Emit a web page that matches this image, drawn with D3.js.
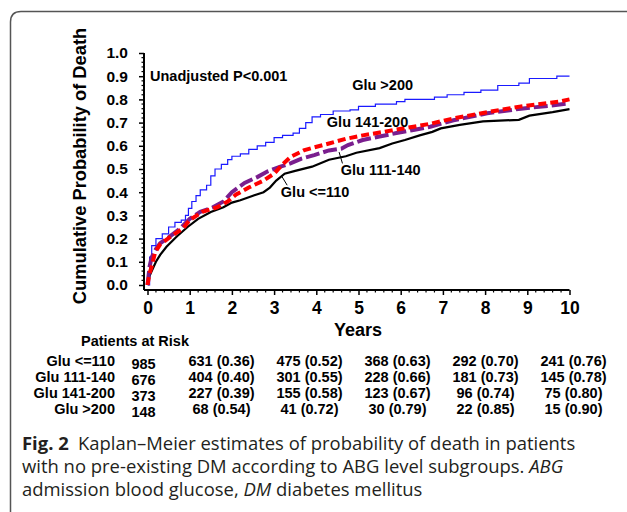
<!DOCTYPE html>
<html>
<head>
<meta charset="utf-8">
<script src="https://cdn.jsdelivr.net/npm/d3@7"></script>
<style>
  body { margin: 0; background: #fff; }
  svg { display: block; }
</style>
</head>
<body>
<div id="chart"></div>
<script>
// ---- data ----
const yearTicks = d3.range(0, 11);
const probTicks = d3.range(0, 11).map(d => d / 10);
const groups = ['Glu <=110', 'Glu 111-140', 'Glu 141-200', 'Glu >200'];

// [years, cumulative probability of death]
const gluLe110 = [[0,0],[0.05,0.04],[0.1,0.06],[0.2,0.10],[0.3,0.13],[0.45,0.165],[0.7,0.21],[0.95,0.25],
  [1.2,0.285],[1.5,0.315],[1.8,0.335],[2.0,0.355],[2.2,0.365],[2.5,0.385],[2.75,0.40],[2.9,0.42],
  [3.05,0.45],[3.25,0.48],[3.5,0.492],[3.9,0.51],[4.1,0.525],[4.3,0.54],[4.7,0.555],[4.95,0.57],
  [5.5,0.59],[5.8,0.61],[6.1,0.625],[6.45,0.645],[6.75,0.66],[6.95,0.675],[7.4,0.69],[7.95,0.705],
  [8.8,0.712],[9.05,0.73],[9.6,0.745],[10,0.758]];
const glu111to140 = [[0,0],[0.05,0.08],[0.1,0.12],[0.2,0.155],[0.3,0.18],[0.5,0.205],[0.75,0.24],[1.0,0.285],
  [1.25,0.315],[1.55,0.335],[1.8,0.36],[2.0,0.40],[2.3,0.44],[2.6,0.465],[2.85,0.49],[3.15,0.51],
  [3.4,0.525],[3.65,0.545],[3.95,0.56],[4.3,0.58],[4.6,0.588],[4.75,0.603],[5.1,0.625],[5.5,0.64],
  [5.9,0.655],[6.3,0.668],[6.7,0.682],[7.25,0.71],[8.05,0.74],[8.85,0.76],[9.5,0.772],[10,0.783]];
const glu141to200 = [[0,0],[0.05,0.05],[0.1,0.08],[0.18,0.14],[0.3,0.175],[0.6,0.215],[0.85,0.245],[1.0,0.28],
  [1.3,0.315],[1.65,0.335],[1.9,0.36],[2.1,0.39],[2.4,0.42],[2.75,0.45],[3.0,0.48],[3.2,0.52],
  [3.4,0.553],[3.7,0.58],[3.95,0.593],[4.3,0.61],[4.7,0.63],[5.1,0.645],[5.5,0.657],[5.9,0.67],
  [6.3,0.682],[6.7,0.695],[7.25,0.718],[8.05,0.745],[8.85,0.77],[9.75,0.79],[10,0.80]];
const gluGt200 = [[0,0],[0.05,0.12],[0.1,0.17],[0.2,0.20],[0.35,0.22],[0.5,0.25],[0.65,0.27],[0.8,0.28],
  [0.9,0.30],[0.97,0.33],[1.05,0.36],[1.15,0.385],[1.25,0.41],[1.4,0.43],[1.5,0.47],[1.6,0.50],[1.75,0.52],
  [1.9,0.54],[2.0,0.555],[2.2,0.565],[2.4,0.585],[2.6,0.60],[2.8,0.615],[3.0,0.635],[3.2,0.645],[3.45,0.655],
  [3.6,0.675],[3.75,0.70],[3.9,0.725],[4.1,0.735],[4.4,0.75],[4.8,0.755],[5.0,0.77],[5.4,0.78],
  [5.9,0.79],[6.1,0.80],[6.8,0.81],[7.1,0.82],[7.5,0.83],[7.9,0.84],[8.3,0.86],[8.8,0.87],
  [9.05,0.89],[9.7,0.90],[10,0.90]];

// patients at risk table
const riskYears = [2, 4, 6, 8, 10];
const riskStart = [985, 676, 373, 148];
const riskCounts = [[631,475,368,292,241],[404,301,228,181,145],[227,155,123,96,75],[68,41,30,22,15]];
const riskProbs = [[0.36,0.52,0.63,0.70,0.76],[0.40,0.55,0.66,0.73,0.78],[0.39,0.58,0.67,0.74,0.80],[0.54,0.72,0.79,0.85,0.90]];

// ---- drawing ----
const width = 627, height = 512;
const FONT = '"Liberation Sans", Arial, sans-serif';

const svg = d3.select('#chart').append('svg')
  .attr('width', width).attr('height', height)
  .style('background', '#fff');

// outer figure frame (rounded corner top-left, open to the right and bottom)
svg.append('path')
  .attr('d', 'M10.5,512 V22 Q10.5,11.5 21,11.5 H627')
  .attr('fill', 'none').attr('stroke', '#555').attr('stroke-width', 1.5);

const x = d3.scaleLinear().domain([0, 10]).range([147.5, 569.5]);
const y = d3.scaleLinear().domain([0, 1]).range([285, 53]);
const axisX0 = 144, axisY0 = 290;

// y axis
const gy = svg.append('g').attr('transform', `translate(${axisX0},0)`)
  .call(d3.axisLeft(y).tickValues(probTicks).tickFormat(d3.format('.1f'))
    .tickSize(5).tickPadding(11));
gy.select('.domain').remove();
gy.selectAll('text').style('font', `bold 15.5px ${FONT}`).attr('fill', '#000');
gy.selectAll('line').attr('stroke-width', 1.5);
gy.append('line').attr('y1', axisY0).attr('y2', y(1))
  .attr('stroke', '#000').attr('stroke-width', 2);
gy.selectAll('line.minor')
  .data(d3.range(0, 51).map(d => d / 50).filter((d, i) => i % 5 !== 0))
  .join('line').classed('minor', true)
  .attr('x1', 0).attr('x2', -2.5)
  .attr('y1', d => y(d)).attr('y2', d => y(d))
  .attr('stroke', '#000').attr('stroke-width', 1.2);

// x axis
const gx = svg.append('g').attr('transform', `translate(0,${axisY0})`)
  .call(d3.axisBottom(x).tickValues(yearTicks).tickSize(5).tickPadding(7));
gx.select('.domain').remove();
gx.selectAll('text').style('font', `bold 17.5px ${FONT}`).attr('fill', '#000');
gx.selectAll('line').attr('stroke-width', 1.5);
gx.append('line').attr('x1', axisX0).attr('x2', x(10))
  .attr('stroke', '#000').attr('stroke-width', 2);
gx.selectAll('line.minor')
  .data(d3.range(0, 51).map(d => d / 5).filter((d, i) => i % 5 !== 0))
  .join('line').classed('minor', true)
  .attr('x1', d => x(d)).attr('x2', d => x(d))
  .attr('y1', 0).attr('y2', 2.5)
  .attr('stroke', '#000').attr('stroke-width', 1.2);

// axis titles
svg.append('text')
  .attr('transform', 'translate(86,166) rotate(-90)')
  .attr('text-anchor', 'middle')
  .style('font', `bold 18.3px ${FONT}`)
  .text('Cumulative Probability of Death');
svg.append('text')
  .attr('x', 358).attr('y', 336)
  .attr('text-anchor', 'middle')
  .style('font', `bold 18px ${FONT}`)
  .text('Years');

// curves
const series = [
  { data: gluGt200,    color: '#1a1aff', w: 1.2, dash: null,   curve: d3.curveStepAfter },
  { data: gluLe110,    color: '#000000', w: 2.2, dash: null,   curve: d3.curveLinear },
  { data: glu111to140, color: '#7a1e8e', w: 4,   dash: '14,4', curve: d3.curveLinear },
  { data: glu141to200, color: '#ff0000', w: 4,   dash: '8,4',  curve: d3.curveLinear }
];
series.forEach(s => {
  svg.append('path')
    .datum(s.data)
    .attr('fill', 'none')
    .attr('stroke', s.color)
    .attr('stroke-width', s.w)
    .attr('stroke-dasharray', s.dash)
    .attr('d', d3.line().x(d => x(d[0])).y(d => y(d[1])).curve(s.curve));
});

// annotations in data space: [label, year, prob]
const notes = [
  ['Unadjusted P<0.001', 0.06, 0.88],
  [groups[3], 4.85, 0.84],
  [groups[2], 4.25, 0.68],
  [groups[1], 4.58, 0.475],
  [groups[0], 3.16, 0.378]
];
svg.selectAll('text.note').data(notes).join('text').classed('note', true)
  .attr('x', d => x(d[1])).attr('y', d => y(d[2]))
  .style('font', `bold 14.5px ${FONT}`)
  .text(d => d[0]);

// leader lines: [year1, prob1, year2, prob2]
const leaders = [[4.54, 0.573, 4.62, 0.524], [3.19, 0.466, 3.31, 0.43]];
svg.selectAll('line.leader').data(leaders).join('line').classed('leader', true)
  .attr('x1', d => x(d[0])).attr('y1', d => y(d[1]))
  .attr('x2', d => x(d[2])).attr('y2', d => y(d[3]))
  .attr('stroke', '#000').attr('stroke-width', 1);

// patients at risk table
const colX = d3.scaleLinear().domain([2, 10]).range([221.5, 573.5]);
const rowY = d3.scaleLinear().domain([0, 3]).range([366, 414]);
const tableFont = `bold 14.5px ${FONT}`;
svg.append('text').attr('x', 81).attr('y', 346)
  .style('font', tableFont).text('Patients at Risk');
groups.forEach((g, i) => {
  svg.append('text').attr('x', 115).attr('y', rowY(i))
    .attr('text-anchor', 'end').style('font', tableFont).text(g);
  svg.append('text').attr('x', 143.5).attr('y', rowY(i) + 2.5)
    .attr('text-anchor', 'middle').style('font', tableFont).text(riskStart[i]);
  svg.selectAll(null).data(riskYears).join('text')
    .attr('x', d => colX(d)).attr('y', rowY(i))
    .attr('text-anchor', 'middle').style('font', tableFont)
    .text((d, j) => `${riskCounts[i][j]} (${riskProbs[i][j].toFixed(2)})`);
});

// caption
const capFont = '"Open Sans", "Noto Sans", sans-serif';
const cap = svg.append('g').attr('fill', '#231f20').style('font-family', capFont);
const lines = [
  [['Fig. 2', 'bold'], ['\u2002Kaplan\u2013Meier estimates of probability of death in patients', null]],
  [['with no pre-existing DM according to ABG level subgroups. ', null], ['ABG', 'italic']],
  [['admission blood glucose, ', null], ['DM', 'italic'], [' diabetes mellitus', null]]
];
const capSize = 18;
lines.forEach((ln, i) => {
  const t = cap.append('text').attr('x', 22).attr('y', 450 + i * 23)
    .style('font-size', capSize + 'px').attr('xml:space', 'preserve');
  ln.forEach(([txt, st]) => {
    const ts = t.append('tspan').text(txt);
    if (st === 'bold') ts.style('font-weight', 'bold');
    if (st === 'italic') ts.style('font-style', 'italic');
  });
});
// fit caption size to the width of the second line in the original
const line2 = cap.selectAll('text').nodes()[1];
const k = 542 / line2.getComputedTextLength();
cap.selectAll('text').style('font-size', (capSize * k).toFixed(2) + 'px');
</script>
</body>
</html>
